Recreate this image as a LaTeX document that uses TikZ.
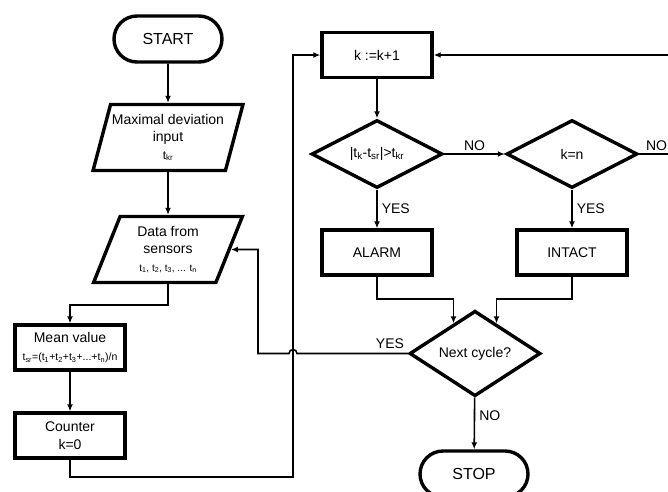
\documentclass[tikz,border=0pt]{standalone}
\usepackage{fontspec}
\setmainfont{Liberation Sans}
\usetikzlibrary{shapes,positioning,arrows.meta,calc}

\begin{document}
\begin{tikzpicture}[x=1pt,y=-1pt,>={Latex[length=7pt,width=6pt]}]
		\tikzstyle{every node}+=[inner sep=0pt, font=\fontsize{14}{17.5}\selectfont]
		\tikzstyle{box}=[draw, line width=3.4pt, rectangle, minimum width=110pt, minimum height=45pt, align=center]
		\tikzstyle{io}=[draw, line width=3.4pt, trapezium, trapezium left angle=70, trapezium right angle=110, trapezium stretches=true, minimum width=150pt, minimum height=66pt, align=center]
		\tikzstyle{cond}=[draw, line width=3.4pt, diamond, minimum width=131pt, minimum height=68pt, align=center]
		\tikzstyle{term}=[draw, line width=3.4pt, rounded rectangle, minimum width=108pt, minimum height=46pt, font=\fontsize{16}{19}\selectfont]
		\tikzstyle{line}=[line width=1.6pt]
		\useasboundingbox (0,0) rectangle (668,491);
		\clip (0,0) rectangle (668,491);
		% left column
		\node [term] (start) at (168,39) {START};
		\node [io] (maxdev) at (168,137.5) {Maximal deviation\\input\\{\fontsize{12}{15}\selectfont t\textsubscript{kr}}};
		\node [io] (data) at (168,249.5) {Data from\\sensors\\{\fontsize{10}{13}\selectfont t\textsubscript{1}, t\textsubscript{2}, t\textsubscript{3}, ... t\textsubscript{n}}};
		\node [box] (mean) at (70,347.5) {Mean value\\[1pt]{\fontsize{10.5}{12}\selectfont t\textsubscript{sr}=(t\textsubscript{1}+t\textsubscript{2}+t\textsubscript{3}+...+t\textsubscript{n})/n}};
		\node [box] (counter) at (70,435.5) {Counter\\k=0};
		% right part
		\node [box] (kinc) at (377,55) {k :=k+1};
		\node [cond] (check) at (377,154) {|t\textsubscript{k}-t\textsubscript{sr}|>t\textsubscript{kr}};
		\node [cond] (last) at (572,154) {k=n};
		\node [box] (alarm) at (377,252.5) {ALARM};
		\node [box] (intact) at (572,252.5) {INTACT};
		\node [cond] (next) at (475,353.5) {Next cycle?};
		\node [term] (stop) at (474,474) {STOP};
		\coordinate (loop) at (293,477);
		\coordinate (back) at (258,0);
		\coordinate (edge) at (700,154);
		\draw [line,->] (start) -- (maxdev);
		\draw [line,->] (maxdev) -- (data);
		\draw [line,->] (data.south) -- ++(0,21) -| (mean.north);
		\draw [line,->] (mean) -- (counter);
		\draw [line,->] (counter.south) |- (loop) |- (kinc.west);
		\draw [line,->] (kinc) -- (check);
		\draw [line,->] (check) -- node[above=3pt] {NO} (last);
		\draw [line,->] (check) -- node[right=4pt] {YES} (alarm);
		\draw [line,->] (last) -- node[right=4pt] {YES} (intact);
		\draw [line,->] (last.east) -- node[pos=0.1, anchor=south west, yshift=3pt] {NO} (edge) |- (kinc.east);
		\draw [line,->] (alarm.south) -- ++(0,22) -| ($(next.north)!0.32!(next.west)$);
		\draw [line,->] (intact.south) -- ++(0,22) -| ($(next.north)!0.32!(next.east)$);
		\draw [line,->] (next) -- node[pos=0.35, right=4pt] {NO} (stop);
		\draw [line,->] (next.west) -- node[pos=0, anchor=south east, xshift=-3pt, yshift=4pt] {YES} ($(loop |- next.west)+(4,0)$) arc[start angle=0, end angle=180, radius=4pt] -- (back |- next.west) |- (data.east);
\end{tikzpicture}
\end{document}
